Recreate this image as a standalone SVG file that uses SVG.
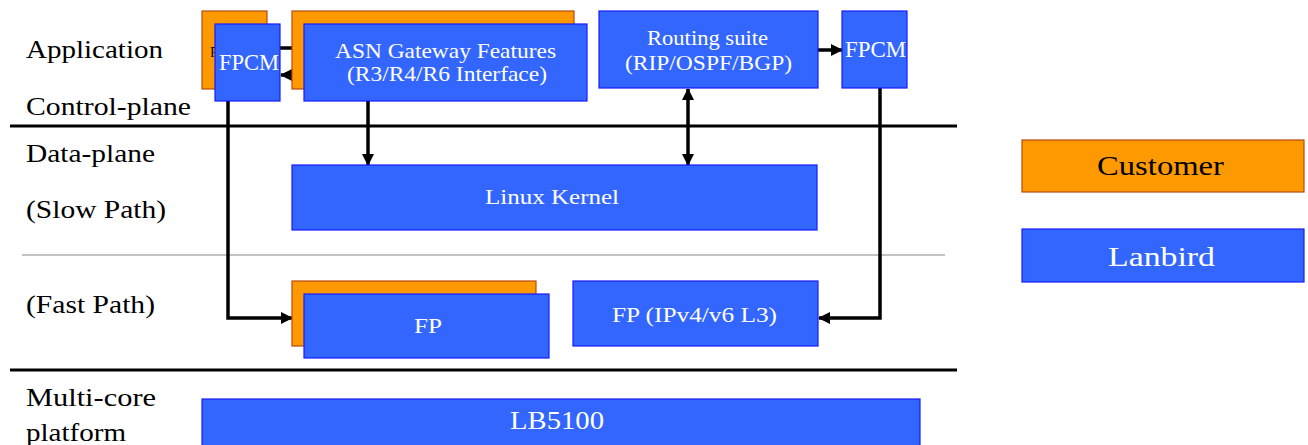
<svg xmlns="http://www.w3.org/2000/svg" width="1308" height="445" viewBox="0 0 1308 445">
<defs>
<style>
.blue{fill:#3366FF;stroke:#1A1AFF;stroke-width:1.2}
.orange{fill:#FF9900;stroke:#B84A10;stroke-width:1.2}
.wt{fill:#FFFFFF;font-family:"Liberation Serif",serif;text-anchor:middle}
.bt{fill:#000000;font-family:"Liberation Serif",serif}
.lbl{fill:#000000;font-family:"Liberation Serif",serif;font-size:26px}
.conn{fill:none;stroke:#000;stroke-width:3.5}
.sep{stroke:#000;stroke-width:2.8}
.thin{stroke:#888;stroke-width:1.2}
</style>
<clipPath id="peek"><rect x="202" y="11" width="13" height="78"/></clipPath>
<marker id="ah" markerWidth="12" markerHeight="12" refX="11" refY="6" orient="auto" markerUnits="userSpaceOnUse">
<path d="M0,0 L12,6 L0,12 Z" fill="#000"/>
</marker>
<marker id="ahs" markerWidth="12" markerHeight="12" refX="1" refY="6" orient="auto" markerUnits="userSpaceOnUse">
<path d="M12,0 L0,6 L12,12 Z" fill="#000"/>
</marker>
</defs>
<rect width="1308" height="445" fill="#FFFFFF"/>

<g id="separators">
<line class="sep" x1="10" y1="126" x2="957" y2="126"/>
<line class="thin" x1="22" y1="255" x2="945" y2="255"/>
<line class="sep" x1="10" y1="370" x2="957" y2="370"/>
</g>

<g id="labels">
<text class="lbl" x="26" y="58" textLength="137" lengthAdjust="spacingAndGlyphs">Application</text>
<text class="lbl" x="26" y="115" textLength="165" lengthAdjust="spacingAndGlyphs">Control-plane</text>
<text class="lbl" x="26" y="162" textLength="129" lengthAdjust="spacingAndGlyphs">Data-plane</text>
<text class="lbl" x="26" y="218" textLength="140" lengthAdjust="spacingAndGlyphs">(Slow Path)</text>
<text class="lbl" x="26" y="313" textLength="129" lengthAdjust="spacingAndGlyphs">(Fast Path)</text>
<text class="lbl" x="26" y="406" textLength="130" lengthAdjust="spacingAndGlyphs">Multi-core</text>
<text class="lbl" x="26" y="441" textLength="100" lengthAdjust="spacingAndGlyphs">platform</text>
</g>

<g id="connectors">
<line class="conn" x1="267" y1="48" x2="292" y2="48"/>
<line class="conn" x1="304" y1="75" x2="281" y2="75" marker-end="url(#ah)"/>
<line class="conn" x1="818" y1="50" x2="842" y2="50" marker-end="url(#ah)"/>
<line class="conn" x1="368" y1="101" x2="368" y2="165" marker-end="url(#ah)"/>
<line class="conn" x1="688" y1="89" x2="688" y2="165" marker-start="url(#ahs)" marker-end="url(#ah)"/>
<polyline class="conn" points="228,101 228,318 292,318" marker-end="url(#ah)"/>
<polyline class="conn" points="880,88 880,318 819,318" marker-end="url(#ah)"/>
</g>

<g id="cust-fpcm">
<rect class="orange" x="202" y="11" width="65" height="78"/>
<text class="bt" x="210" y="57" font-size="14" clip-path="url(#peek)">F</text>
</g>
<g id="fpcm-left">
<rect class="blue" x="215" y="24" width="65" height="77"/>
<text class="wt" x="249" y="70" font-size="23" textLength="60" lengthAdjust="spacingAndGlyphs">FPCM</text>
</g>

<g id="cust-asn">
<rect class="orange" x="292" y="11" width="282" height="78"/>
</g>
<g id="asn">
<rect class="blue" x="304" y="24" width="283" height="77"/>
<text class="wt" x="445.5" y="58" font-size="21" textLength="221" lengthAdjust="spacingAndGlyphs">ASN Gateway Features</text>
<text class="wt" x="447" y="81" font-size="21" textLength="200" lengthAdjust="spacingAndGlyphs">(R3/R4/R6 Interface)</text>
</g>

<g id="routing">
<rect class="blue" x="599" y="11" width="219" height="77"/>
<text class="wt" x="707.5" y="45" font-size="21" textLength="121" lengthAdjust="spacingAndGlyphs">Routing suite</text>
<text class="wt" x="708.5" y="70" font-size="21" textLength="167" lengthAdjust="spacingAndGlyphs">(RIP/OSPF/BGP)</text>
</g>

<g id="fpcm-right">
<rect class="blue" x="842" y="11" width="65" height="77"/>
<text class="wt" x="875.5" y="57" font-size="23" textLength="61" lengthAdjust="spacingAndGlyphs">FPCM</text>
</g>

<g id="linux-kernel">
<rect class="blue" x="292" y="165" width="525" height="65"/>
<text class="wt" x="552" y="204" font-size="21" textLength="134" lengthAdjust="spacingAndGlyphs">Linux Kernel</text>
</g>

<g id="cust-fp">
<rect class="orange" x="292" y="281" width="244" height="65"/>
</g>
<g id="fp">
<rect class="blue" x="304" y="294" width="245" height="64"/>
<text class="wt" x="428" y="333" font-size="22" textLength="28" lengthAdjust="spacingAndGlyphs">FP</text>
</g>

<g id="fp-l3">
<rect class="blue" x="573" y="281" width="245" height="65"/>
<text class="wt" x="694.5" y="322" font-size="21" textLength="165" lengthAdjust="spacingAndGlyphs">FP (IPv4/v6 L3)</text>
</g>

<g id="lb5100">
<rect class="blue" x="202" y="399" width="718" height="50"/>
<text class="wt" x="557" y="429" font-size="26" textLength="94" lengthAdjust="spacingAndGlyphs">LB5100</text>
</g>

<g id="legend-customer">
<rect class="orange" x="1022" y="140" width="282" height="52"/>
<text class="bt" x="1160.5" y="175" font-size="28" text-anchor="middle" textLength="127" lengthAdjust="spacingAndGlyphs">Customer</text>
</g>
<g id="legend-lanbird">
<rect class="blue" x="1022" y="229" width="282" height="53"/>
<text class="wt" x="1161.5" y="266" font-size="28" textLength="107" lengthAdjust="spacingAndGlyphs">Lanbird</text>
</g>
</svg>
